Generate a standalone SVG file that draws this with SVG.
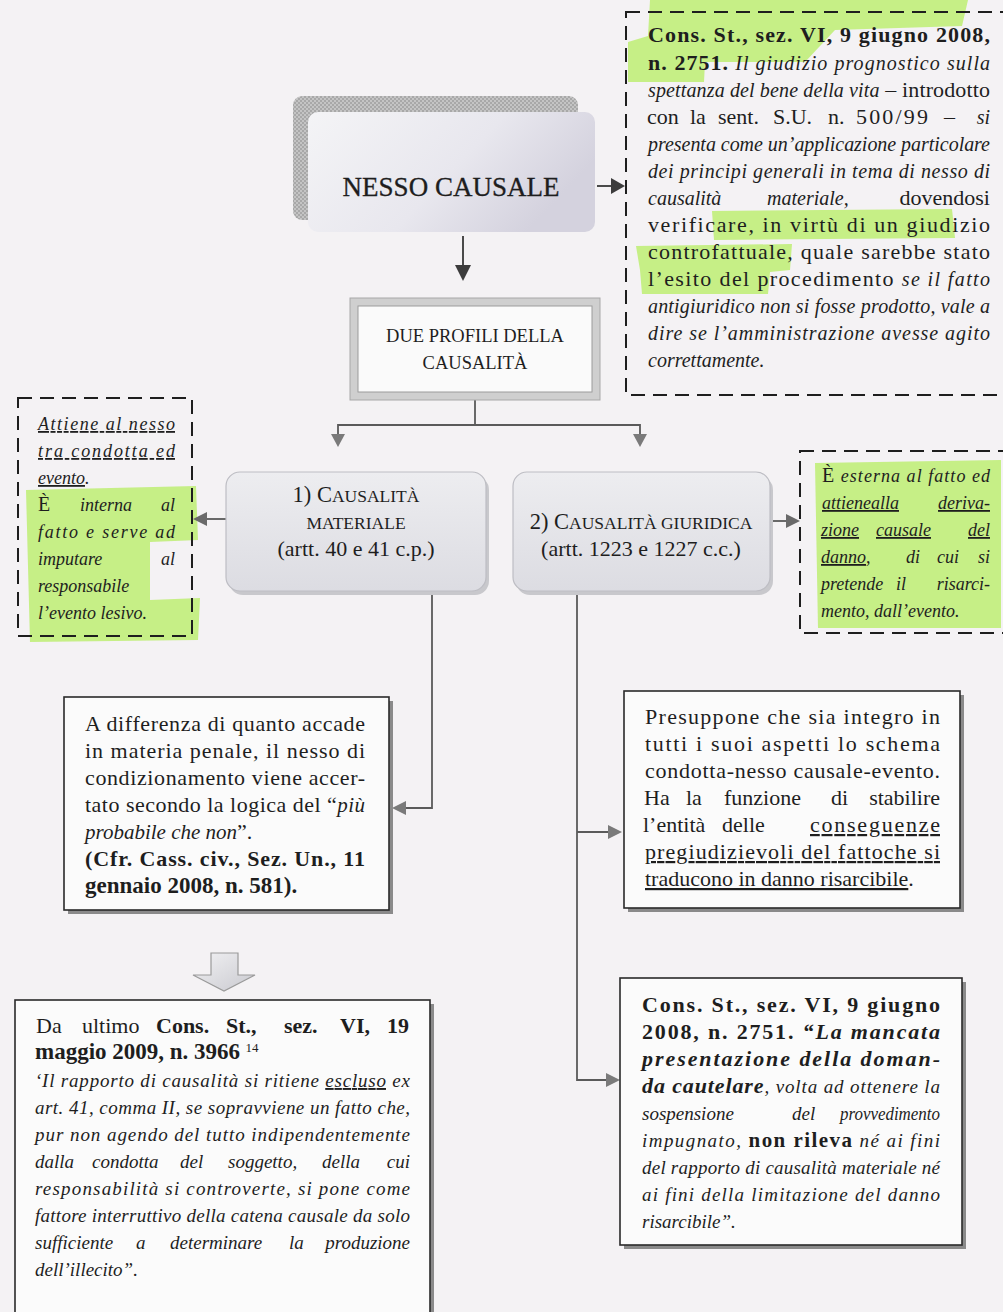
<svg xmlns="http://www.w3.org/2000/svg" width="1003" height="1312" viewBox="0 0 1003 1312">
  <style>
    .t { font-family: "Liberation Serif", "DejaVu Serif", serif; font-size: 22px; fill: #1e1e1e; }
    .s18 { font-size: 18px; }
    .s19 { font-size: 19px; }
    .s20 { font-size: 20px; }
    .i { font-style: italic; }
    .b { font-weight: bold; }
    .u { text-decoration: underline; }
    .c { text-anchor: middle; }
    .e { text-anchor: end; }
    .dash { fill: none; stroke: #1e1e1e; stroke-width: 2; stroke-dasharray: 14 8; }
    .solid { fill: #fbfbfb; stroke: #2a2a2a; stroke-width: 1.6; }
    .shadow { fill: #8a8a8a; }
    .hl { fill: #a6ec3c; opacity: 0.6; }
    .ln { fill: none; stroke: #4a4a4a; stroke-width: 2; }
    .ln2 { fill: none; stroke: #5a5a5a; stroke-width: 1.8; }
  </style>
  <defs>
    <pattern id="hatch" width="4" height="4" patternUnits="userSpaceOnUse">
      <rect width="4" height="4" fill="#c4c4c4"/>
      <rect width="2" height="2" fill="#a8a8a8"/>
      <rect x="2" y="2" width="2" height="2" fill="#a8a8a8"/>
    </pattern>
    <linearGradient id="gMain" x1="0" y1="0" x2="1" y2="0.4">
      <stop offset="0" stop-color="#f4f4f6"/>
      <stop offset="0.6" stop-color="#e8e7ee"/>
      <stop offset="1" stop-color="#d4d2de"/>
    </linearGradient>
    <linearGradient id="gSub" x1="0" y1="0" x2="0" y2="1">
      <stop offset="0" stop-color="#ededf0"/>
      <stop offset="1" stop-color="#dcdce2"/>
    </linearGradient>
    <linearGradient id="gBlock" x1="0" y1="0" x2="1" y2="1">
      <stop offset="0" stop-color="#f2f2f4"/>
      <stop offset="1" stop-color="#c9c9cf"/>
    </linearGradient>
  </defs>

  <!-- paper -->
  <rect width="1003" height="1312" fill="#f4f2f4"/>

  <!-- highlighter marks -->
  <g id="highlights">
    <path class="hl" d="M650,0 L968,0 L962,26 L835,30 L805,62 L705,62 L704,82 L628,82 L628,42 L648,36 Z"/>
    <path class="hl" d="M712,211 L952,209 L955,238 L714,240 Z"/>
    <path class="hl" d="M636,246 L792,244 L790,270 L770,272 L768,294 L642,294 L640,270 Z"/>
    <path class="hl" d="M26,490 L196,486 L198,540 L150,542 L150,600 L200,598 L198,640 L30,642 Z"/>
    <path class="hl" d="M815,463 L1001,460 L1001,628 L818,628 Z"/>
    <path class="hl" d="M695,866 L958,864 L956,906 L698,906 Z"/>
  </g>

  <!-- connectors -->
  <g id="connectors">
    <!-- NESSO CAUSALE -> note -->
    <line class="ln" x1="597" y1="186" x2="612" y2="186"/>
    <path d="M611,178 L625,186 L611,194 Z" fill="#3c3c3c"/>
    <!-- NESSO CAUSALE -> DUE PROFILI -->
    <line class="ln" x1="463" y1="236" x2="463" y2="266"/>
    <path d="M455,265 L463,281 L471,265 Z" fill="#3c3c3c"/>
    <!-- DUE PROFILI -> two branches -->
    <polyline class="ln2" points="475,400 475,425"/>
    <polyline class="ln2" points="338,437 338,425 640,425 640,437"/>
    <path d="M331,434 L338,447 L345,434 Z" fill="#7a7a7a"/>
    <path d="M633,434 L640,447 L647,434 Z" fill="#7a7a7a"/>
    <!-- side arrows of the two profiles -->
    <line class="ln2" x1="226" y1="519" x2="205" y2="519"/>
    <path d="M207,512 L193,519 L207,526 Z" fill="#6a6a6a"/>
    <line class="ln2" x1="770" y1="521" x2="788" y2="521"/>
    <path d="M786,514 L800,521 L786,528 Z" fill="#6a6a6a"/>
    <!-- material causality -> A differenza -->
    <polyline class="ln2" points="432,592 432,808 405,808"/>
    <path d="M406,801 L392,808 L406,815 Z" fill="#7a7a7a"/>
    <!-- legal causality -> right boxes -->
    <polyline class="ln2" points="577,592 577,1080 608,1080"/>
    <polyline class="ln2" points="577,832 610,832"/>
    <path d="M608,825 L622,832 L608,839 Z" fill="#7a7a7a"/>
    <path d="M606,1073 L620,1080 L606,1087 Z" fill="#7a7a7a"/>
    <!-- block arrow -->
    <path d="M211,953 L238,953 L238,975 L255,975 L224,991 L193,975 L211,975 Z" fill="url(#gBlock)" stroke="#9a9a9a" stroke-width="1.2"/>
  </g>

  <!-- NESSO CAUSALE -->
  <g id="nesso">
    <rect x="293" y="96" width="285" height="124" rx="9" fill="url(#hatch)"/>
    <rect x="308" y="112" width="287" height="120" rx="10" fill="url(#gMain)"/>
    <text class="t c" x="451" y="196" style="font-size:27px" stroke="#1e1e1e" stroke-width="0.3">NESSO CAUSALE</text>
  </g>

  <!-- DUE PROFILI DELLA CAUSALITÀ -->
  <g id="profili">
    <rect x="350" y="298" width="250" height="102" fill="#cfcfcf" stroke="#a8a8a8" stroke-width="1"/>
    <rect x="358" y="306" width="234" height="86" fill="#fafafa" stroke="#9c9c9c" stroke-width="1"/>
    <text class="t c" x="475" y="342" style="font-size:18.5px">DUE PROFILI DELLA</text>
    <text class="t c" x="475" y="369" style="font-size:18.5px">CAUSALITÀ</text>
  </g>

  <!-- 1) Causalità materiale -->
  <g id="materiale">
    <rect x="229" y="476" width="260" height="119" rx="14" fill="#c8c8cc"/>
    <rect x="226" y="472" width="260" height="119" rx="14" fill="url(#gSub)" stroke="#bdbdc3" stroke-width="1.2"/>
    <text class="t c" x="356" y="502" style="font-size:22.5px">1) C<tspan style="font-size:17.5px">AUSALITÀ</tspan></text>
    <text class="t c" x="356" y="529" style="font-size:17.5px">MATERIALE</text>
    <text class="t c" x="356" y="556" style="font-size:22px">(artt. 40 e 41 c.p.)</text>
  </g>

  <!-- 2) Causalità giuridica -->
  <g id="giuridica">
    <rect x="516" y="476" width="257" height="119" rx="14" fill="#c8c8cc"/>
    <rect x="513" y="472" width="257" height="119" rx="14" fill="url(#gSub)" stroke="#bdbdc3" stroke-width="1.2"/>
    <text class="t c" x="641" y="529" style="font-size:22.5px">2) C<tspan style="font-size:17.5px">AUSALITÀ GIURIDICA</tspan></text>
    <text class="t c" x="641" y="556" style="font-size:22px">(artt. 1223 e 1227 c.c.)</text>
  </g>

  <!-- note on the prognostic judgement -->
  <g id="nota-prognosi">
    <rect class="dash" x="626" y="12" width="390" height="383"/>
    <text class="t b" x="648" y="42" textLength="342" lengthAdjust="spacing">Cons. St., sez. VI, 9 giugno 2008,</text>
    <text class="t" x="648" y="70" textLength="342" lengthAdjust="spacing"><tspan class="b">n. 2751.</tspan><tspan class="i s20"> Il giudizio prognostico sulla</tspan></text>
    <text class="t" x="648" y="97" textLength="342" lengthAdjust="spacing"><tspan class="i s20">spettanza del bene della vita</tspan> – introdotto</text>
    <text class="t" x="647" y="124">con</text>
    <text class="t" x="690" y="124">la</text>
    <text class="t" x="718" y="124">sent.</text>
    <text class="t" x="773" y="124">S.U.</text>
    <text class="t" x="828" y="124">n.</text>
    <text class="t" x="856" y="124" textLength="72" lengthAdjust="spacing">500/99</text>
    <text class="t" x="944" y="124">–</text>
    <text class="t s20 i e" x="990" y="124">si</text>
    <text class="t s20 i" x="648" y="151" textLength="342" lengthAdjust="spacing">presenta come un’applicazione particolare</text>
    <text class="t s20 i" x="648" y="178" textLength="342" lengthAdjust="spacing">dei principi generali in tema di nesso di</text>
    <text class="t s20 i" x="648" y="205">causalità</text>
    <text class="t s20 i" x="767" y="205">materiale,</text>
    <text class="t e" x="990" y="205">dovendosi</text>
    <text class="t" x="648" y="232" textLength="342" lengthAdjust="spacing">verificare, in virtù di un giudizio</text>
    <text class="t" x="648" y="259" textLength="342" lengthAdjust="spacing">controfattuale, quale sarebbe stato</text>
    <text class="t" x="648" y="286" textLength="342" lengthAdjust="spacing">l’esito del procedimento <tspan class="i s20">se il fatto</tspan></text>
    <text class="t s20 i" x="648" y="313" textLength="342" lengthAdjust="spacing">antigiuridico non si fosse prodotto, vale a</text>
    <text class="t s20 i" x="648" y="340" textLength="342" lengthAdjust="spacing">dire se l’amministrazione avesse agito</text>
    <text class="t s20 i" x="648" y="367">correttamente.</text>
  </g>

  <!-- note on material causality -->
  <g id="nota-materiale">
    <rect class="dash" x="18" y="398" width="174" height="238"/>
    <text class="t s18 i u" x="38" y="430" textLength="137" lengthAdjust="spacing">Attiene al nesso</text>
    <text class="t s18 i u" x="38" y="457" textLength="137" lengthAdjust="spacing">tra condotta ed</text>
    <text class="t s18 i" x="38" y="484"><tspan class="u">evento</tspan>.</text>
    <text class="t" x="38" y="511" style="font-size:20px">È</text>
    <text class="t s18 i" x="80" y="511">interna</text>
    <text class="t s18 i e" x="175" y="511">al</text>
    <text class="t s18 i" x="38" y="538" textLength="137" lengthAdjust="spacing">fatto e serve ad</text>
    <text class="t s18 i" x="38" y="565">imputare</text>
    <text class="t s18 i e" x="175" y="565">al</text>
    <text class="t s18 i" x="38" y="592">responsabile</text>
    <text class="t s18 i" x="38" y="619">l’evento lesivo.</text>
  </g>

  <!-- note on legal causality -->
  <g id="nota-giuridica">
    <rect class="dash" x="800" y="451" width="215" height="182"/>
    <text class="t s18" x="822" y="482" textLength="168" lengthAdjust="spacing"><tspan style="font-size:20px">È</tspan> <tspan class="i">esterna al fatto ed</tspan></text>
    <text class="t s18 i u" x="822" y="509">attienealla</text>
    <text class="t s18 i u e" x="990" y="509">deriva-</text>
    <text class="t s18 i u" x="821" y="536">zione</text>
    <text class="t s18 i u" x="876" y="536">causale</text>
    <text class="t s18 i u e" x="990" y="536">del</text>
    <text class="t s18 i" x="821" y="563"><tspan class="u">danno</tspan>,</text>
    <text class="t s18 i" x="906" y="563">di</text>
    <text class="t s18 i" x="937" y="563">cui</text>
    <text class="t s18 i e" x="990" y="563">si</text>
    <text class="t s18 i" x="821" y="590">pretende</text>
    <text class="t s18 i" x="896" y="590">il</text>
    <text class="t s18 i e" x="990" y="590">risarci-</text>
    <text class="t s18 i" x="821" y="617">mento, dall’evento.</text>
  </g>

  <!-- more probable than not -->
  <g id="piu-probabile">
    <rect class="shadow" x="68" y="701" width="325" height="213"/>
    <rect class="solid" x="64" y="697" width="325" height="213"/>
    <text class="t" x="85" y="731" textLength="280" lengthAdjust="spacing">A differenza di quanto accade</text>
    <text class="t" x="85" y="758" textLength="280" lengthAdjust="spacing">in materia penale, il nesso di</text>
    <text class="t" x="85" y="785" textLength="280" lengthAdjust="spacing">condizionamento viene accer-</text>
    <text class="t" x="85" y="812" textLength="280" lengthAdjust="spacing">tato secondo la logica del “<tspan class="i" style="font-size:21px">più</tspan></text>
    <text class="t" x="85" y="839"><tspan class="i" style="font-size:21px">probabile che non</tspan>”.</text>
    <text class="t b" x="85" y="866" textLength="280" lengthAdjust="spacing">(Cfr. Cass. civ., Sez. Un., 11</text>
    <text class="t b" x="85" y="893" style="font-size:23px">gennaio 2008, n. 581).</text>
  </g>

  <!-- interruption of the causal chain -->
  <g id="interruzione">
    <rect class="shadow" x="19" y="1004" width="415" height="320"/>
    <rect class="solid" x="15" y="1000" width="415" height="320"/>
    <text class="t" x="36" y="1033">Da</text>
    <text class="t" x="82" y="1033">ultimo</text>
    <text class="t b" x="156" y="1033">Cons.</text>
    <text class="t b" x="226" y="1033">St.,</text>
    <text class="t b" x="284" y="1033">sez.</text>
    <text class="t b" x="340" y="1033">VI,</text>
    <text class="t b e" x="409" y="1033">19</text>
    <text class="t" x="35" y="1059"><tspan class="b" style="font-size:23px">maggio 2009, n. 3966</tspan> <tspan style="font-size:13px" dy="-7">14</tspan></text>
    <text class="t s19 i" x="35" y="1087" textLength="375" lengthAdjust="spacing">‘Il rapporto di causalità si ritiene <tspan class="u">escluso</tspan> ex</text>
    <text class="t s19 i" x="35" y="1114" textLength="375" lengthAdjust="spacing">art. 41, comma II, se sopravviene un fatto che,</text>
    <text class="t s19 i" x="35" y="1141" textLength="375" lengthAdjust="spacing">pur non agendo del tutto indipendentemente</text>
    <text class="t s19 i" x="35" y="1168">dalla</text>
    <text class="t s19 i" x="92" y="1168">condotta</text>
    <text class="t s19 i" x="180" y="1168">del</text>
    <text class="t s19 i" x="228" y="1168">soggetto,</text>
    <text class="t s19 i" x="322" y="1168">della</text>
    <text class="t s19 i e" x="410" y="1168">cui</text>
    <text class="t s19 i" x="35" y="1195" textLength="375" lengthAdjust="spacing">responsabilità si controverte, si pone come</text>
    <text class="t s19 i" x="35" y="1222" textLength="375" lengthAdjust="spacing">fattore interruttivo della catena causale da solo</text>
    <text class="t s19 i" x="35" y="1249">sufficiente</text>
    <text class="t s19 i" x="136" y="1249">a</text>
    <text class="t s19 i" x="170" y="1249">determinare</text>
    <text class="t s19 i" x="289" y="1249">la</text>
    <text class="t s19 i e" x="410" y="1249">produzione</text>
    <text class="t s19 i" x="35" y="1276">dell’illecito”.</text>
  </g>

  <!-- harmful consequences -->
  <g id="conseguenze">
    <rect class="shadow" x="628" y="695" width="336" height="217"/>
    <rect class="solid" x="624" y="691" width="336" height="217"/>
    <text class="t" x="645" y="724" textLength="295" lengthAdjust="spacing">Presuppone che sia integro in</text>
    <text class="t" x="645" y="751" textLength="295" lengthAdjust="spacing">tutti i suoi aspetti lo schema</text>
    <text class="t" x="645" y="778" textLength="295" lengthAdjust="spacing">condotta-nesso causale-evento.</text>
    <text class="t" x="644" y="805">Ha</text>
    <text class="t" x="686" y="805">la</text>
    <text class="t" x="724" y="805">funzione</text>
    <text class="t" x="831" y="805">di</text>
    <text class="t e" x="940" y="805">stabilire</text>
    <text class="t" x="643" y="832">l’entità</text>
    <text class="t" x="722" y="832">delle</text>
    <text class="t u e" x="940" y="832" textLength="130" lengthAdjust="spacing">conseguenze</text>
    <text class="t u" x="645" y="859" textLength="295" lengthAdjust="spacing">pregiudizievoli del fattoche si</text>
    <text class="t" x="645" y="886"><tspan class="u">traducono in danno risarcibile</tspan>.</text>
  </g>

  <!-- precautionary request -->
  <g id="domanda-cautelare">
    <rect class="shadow" x="624" y="982" width="342" height="267"/>
    <rect class="solid" x="620" y="978" width="342" height="267"/>
    <text class="t b" x="642" y="1012" textLength="298" lengthAdjust="spacing">Cons. St., sez. VI, 9 giugno</text>
    <text class="t b" x="642" y="1039" textLength="298" lengthAdjust="spacing">2008, n. 2751. <tspan class="i">“La mancata</tspan></text>
    <text class="t b i" x="642" y="1066" textLength="298" lengthAdjust="spacing">presentazione della doman-</text>
    <text class="t s19 i" x="642" y="1093" textLength="298" lengthAdjust="spacing"><tspan class="b" style="font-size:22px">da cautelare</tspan>, volta ad ottenere la</text>
    <text class="t s19 i" x="642" y="1120">sospensione</text>
    <text class="t s19 i" x="792" y="1120">del</text>
    <text class="t s19 i e" x="940" y="1120" textLength="100" lengthAdjust="spacingAndGlyphs">provvedimento</text>
    <text class="t s19 i" x="642" y="1147" textLength="298" lengthAdjust="spacing">impugnato, <tspan class="b" style="font-style:normal;font-size:21px">non rileva</tspan> né ai fini</text>
    <text class="t s19 i" x="642" y="1174" textLength="298" lengthAdjust="spacing">del rapporto di causalità materiale né</text>
    <text class="t s19 i" x="642" y="1201" textLength="298" lengthAdjust="spacing">ai fini della limitazione del danno</text>
    <text class="t s19 i" x="642" y="1228">risarcibile”.</text>
  </g>
</svg>
